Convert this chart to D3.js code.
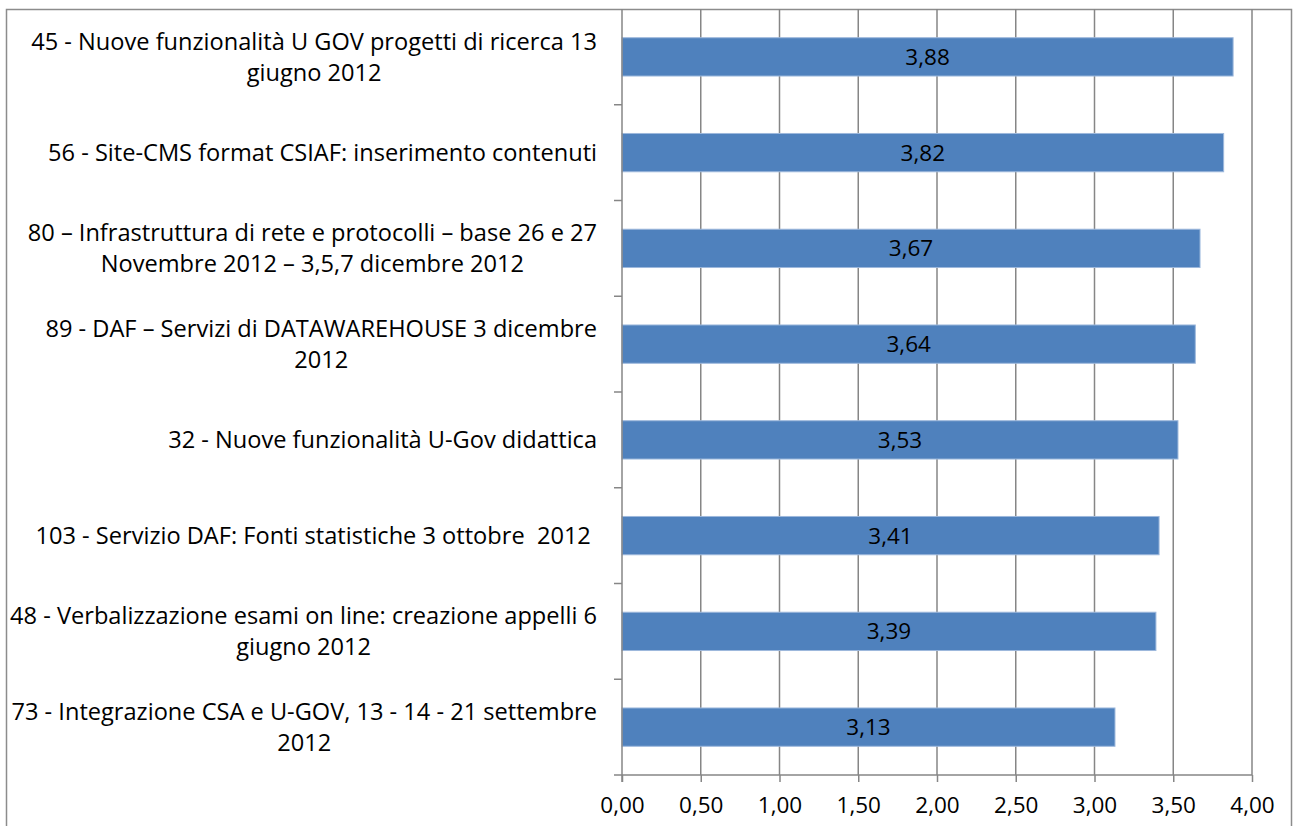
<!DOCTYPE html>
<html>
<head>
<meta charset="utf-8">
<script src="https://cdn.jsdelivr.net/npm/d3@7"></script>
<style>
  body { margin: 0; background: #fff; }
  text { font-family: "Open Sans", "Noto Sans", sans-serif; fill: #000; white-space: pre; }
</style>
</head>
<body>
<div id="chart"></div>
<script>
// categories, top to bottom (each entry = lines of the label)
const categories = [
    ["45 - Nuove funzionalità U GOV progetti di ricerca 13", "giugno 2012"],
    ["56 - Site-CMS format CSIAF: inserimento contenuti"],
    ["80 – Infrastruttura di rete e protocolli – base 26 e 27", "Novembre 2012 – 3,5,7 dicembre 2012"],
    ["89 - DAF – Servizi di DATAWAREHOUSE 3 dicembre", "2012"],
    ["32 - Nuove funzionalità U-Gov didattica"],
    ["103 - Servizio DAF: Fonti statistiche 3 ottobre  2012 "],
    ["48 - Verbalizzazione esami on line: creazione appelli 6", "giugno 2012"],
    ["73 - Integrazione CSA e U-GOV, 13 - 14 - 21 settembre", "2012"]
];
const values = [3.88, 3.82, 3.67, 3.64, 3.53, 3.41, 3.39, 3.13];
const xTicks = [0, 0.5, 1, 1.5, 2, 2.5, 3, 3.5, 4];

const width = 1294, height = 826;
const plot = { left: 622, right: 1252, top: 9, bottom: 775 };
const fontSize = "23.6px";
const fmt = v => d3.format(".2f")(v).replace(".", ",");

const svg = d3.select("#chart").append("svg")
    .attr("width", width)
    .attr("height", height);

// outer chart border (bottom is cut off in the picture)
svg.append("path")
    .attr("d", `M6.5,${height + 5} V9.5 H1291.5 V${height + 5}`)
    .attr("fill", "none")
    .attr("stroke", "#8c8c8c")
    .attr("stroke-width", 1.5);

const x = d3.scaleLinear().domain([0, 4]).range([plot.left, plot.right]);
const y = d3.scaleBand()
    .domain(d3.range(categories.length))
    .range([plot.top, plot.bottom])
    .paddingInner(0.6)
    .paddingOuter(0.3);

// vertical gridlines
svg.append("g")
    .selectAll("line")
    .data(xTicks.slice(1))
    .join("line")
    .attr("x1", d => x(d)).attr("x2", d => x(d))
    .attr("y1", plot.top).attr("y2", plot.bottom)
    .attr("stroke", "#868686")
    .attr("stroke-width", 1.5);

// bars
svg.append("g")
    .selectAll("rect")
    .data(values)
    .join("rect")
    .attr("x", x(0))
    .attr("y", (d, i) => y(i))
    .attr("width", d => x(d) - x(0))
    .attr("height", y.bandwidth())
    .attr("fill", "#4f81bd")
    .attr("stroke", "#9db8dc")
    .attr("stroke-width", 1);

// value labels inside bars
svg.append("g")
    .selectAll("text")
    .data(values)
    .join("text")
    .attr("x", d => (x(0) + x(d)) / 2)
    .attr("y", (d, i) => y(i) + y.bandwidth() / 2)
    .attr("dy", "0.35em")
    .attr("text-anchor", "middle")
    .attr("font-size", "22.5px")
    .text(d => fmt(d));

// x axis
const xAxis = svg.append("g")
    .attr("transform", `translate(0,${plot.bottom})`)
    .call(d3.axisBottom(x).tickValues(xTicks).tickFormat(fmt).tickSize(7).tickPadding(15));
xAxis.select(".domain").remove();
xAxis.selectAll("line").attr("stroke", "#868686").attr("stroke-width", 1.5);
xAxis.selectAll("text").attr("font-size", "22.5px").attr("font-family", "Open Sans").attr("fill", "#000");
xAxis.append("line")
    .attr("x1", plot.left - 8).attr("x2", plot.right)
    .attr("stroke", "#868686").attr("stroke-width", 1.5);

// y axis: line and ticks at category boundaries
const step = (plot.bottom - plot.top) / categories.length;
const yAxis = svg.append("g");
yAxis.append("line")
    .attr("x1", plot.left).attr("x2", plot.left)
    .attr("y1", plot.top).attr("y2", plot.bottom + 7)
    .attr("stroke", "#868686").attr("stroke-width", 1.5);
yAxis.selectAll("line.tick")
    .data(d3.range(1, categories.length))
    .join("line")
    .attr("class", "tick")
    .attr("x1", plot.left - 8).attr("x2", plot.left)
    .attr("y1", d => plot.top + d * step).attr("y2", d => plot.top + d * step)
    .attr("stroke", "#868686").attr("stroke-width", 1.5);

// category labels: centred block, right edge at 597
const lineH = 31;
const labels = svg.append("g")
    .selectAll("text")
    .data(categories)
    .join("text")
    .attr("text-anchor", "middle")
    .attr("font-size", fontSize);

labels.each(function(lines, i) {
    const t = d3.select(this);
    const cy = y(i) + y.bandwidth() / 2;
    const y0 = cy - (lines.length - 1) * lineH / 2;
    lines.forEach((l, k) => {
        t.append("tspan").attr("y", y0 + k * lineH).attr("dy", "0.35em").text(l);
    });
    let maxW = 0;
    t.selectAll("tspan").each(function() {
        maxW = Math.max(maxW, this.getComputedTextLength());
    });
    t.selectAll("tspan").attr("x", 597 - maxW / 2);
});
</script>
</body>
</html>
